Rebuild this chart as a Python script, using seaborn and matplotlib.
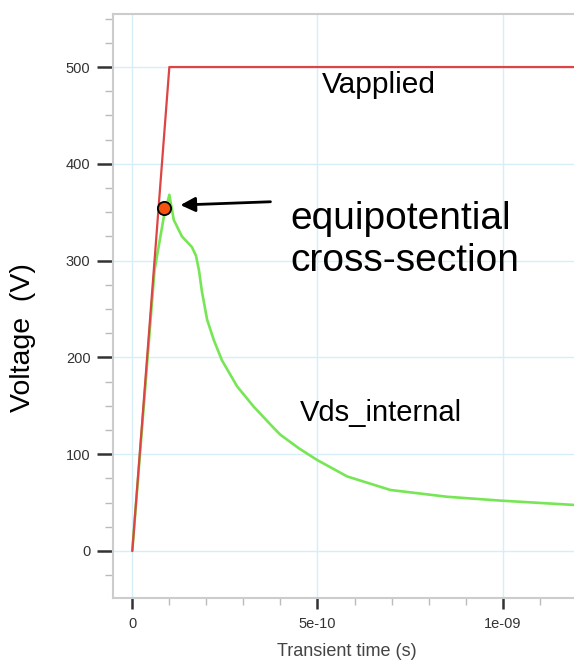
import numpy as np
import pandas as pd
import matplotlib
matplotlib.use("Agg")
import matplotlib.pyplot as plt
from matplotlib.ticker import MultipleLocator, FixedLocator, FixedFormatter
import seaborn as sns

# ---- data ----
t_applied = [0.0, 0.1e-9, 1.195e-9]
v_applied = [0.0, 500.0, 500.0]

t_internal = [0.0, 0.03e-9, 0.06e-9, 0.085e-9, 0.1e-9, 0.112e-9, 0.134e-9, 0.161e-9,
              0.172e-9, 0.18e-9, 0.188e-9, 0.202e-9, 0.220e-9, 0.242e-9, 0.283e-9, 0.328e-9,
              0.382e-9, 0.4e-9, 0.45e-9, 0.499e-9, 0.58e-9, 0.697e-9, 0.85e-9, 0.995e-9, 1.195e-9]
v_internal = [0.0, 145, 290, 345, 368, 342, 325, 314,
              305, 290, 268, 239, 218, 197, 170, 149,
              127, 120, 106, 94, 77, 63, 56, 52, 47.5]

marker_t = [0.0865e-9]
marker_v = [354]

x_ticks = [0.0, 5e-10, 1e-9]
x_tick_labels = ["0", "5e-10", "1e-09"]
y_ticks = [0, 100, 200, 300, 400, 500]
y_tick_labels = ["0", "100", "200", "300", "400", "500"]

sns.set_style("white")
plt.rcParams['font.family'] = ['Liberation Sans', 'DejaVu Sans']

fig = plt.figure(figsize=(5.74, 6.64), dpi=100)
ax = fig.add_axes([113.3/574, (664-598)/664, (574-113.3)/574, (598-14)/664])

df_a = pd.DataFrame({"t": t_applied, "v": v_applied})
df_i = pd.DataFrame({"t": t_internal, "v": v_internal})
sns.lineplot(data=df_a, x="t", y="v", ax=ax, color="#dd4444", lw=1.6, sort=False, zorder=3)
sns.lineplot(data=df_i, x="t", y="v", ax=ax, color="#77e655", lw=1.9, sort=False, zorder=2)
ax.plot(marker_t, marker_v, 'o', ms=9.5, mfc="#f5520f", mec="black", mew=1.3, zorder=5)

ax.set_xlim(-0.0513e-9, 1.1925e-9)
ax.set_ylim(-48.6, 554.8)

ax.xaxis.set_major_locator(FixedLocator(x_ticks))
ax.xaxis.set_major_formatter(FixedFormatter(x_tick_labels))
ax.xaxis.set_minor_locator(MultipleLocator(1e-10))
ax.yaxis.set_major_locator(FixedLocator(y_ticks))
ax.yaxis.set_major_formatter(FixedFormatter(y_tick_labels))
ax.yaxis.set_minor_locator(MultipleLocator(25))

ax.grid(True, which="major", color="#d5eef7", lw=1.0)
ax.set_axisbelow(True)

for s in ["left", "bottom", "top"]:
    ax.spines[s].set_color("#cccccc")
    ax.spines[s].set_linewidth(1.5)
ax.spines["right"].set_visible(False)

ax.tick_params(axis="y", which="major", direction="out", length=11.5, width=1.8,
               color="#333333", labelsize=10.5, labelcolor="#333333", pad=5, left=True)
ax.tick_params(axis="y", which="minor", direction="out", length=6, width=1,
               color="#bbbbbb", left=True)
ax.tick_params(axis="x", which="major", direction="out", length=8, width=1.8,
               color="#333333", labelsize=10.5, labelcolor="#333333", pad=6, bottom=True)
ax.tick_params(axis="x", which="minor", direction="out", length=5, width=1,
               color="#bbbbbb", bottom=True)

ax.set_xlabel("")
ax.set_ylabel("")
fig.text(346.7/574, 1 - 651.7/664, "Transient time (s)", ha="center", va="center",
         fontsize=13, color="#444444")
fig.text(23/574, 1 - 338/664, "Voltage  (V)", ha="center", va="center",
         rotation=90, fontsize=20.5, color="black")

ax.text(0.513e-9, 481, "Vapplied", fontsize=21.5, ha="left", va="center", color="black")
ax.text(0.453e-9, 143, "Vds_internal", fontsize=21, ha="left", va="center", color="black")
ax.text(0.426e-9, 321, "equipotential\ncross-section", fontsize=28, ha="left",
        va="center", color="black", linespacing=1.2)

ax.annotate("", xy=(0.13e-9, 357.4), xytext=(0.373e-9, 360.8),
            arrowprops=dict(arrowstyle="-|>", color="black", lw=2, mutation_scale=22,
                            shrinkA=0, shrinkB=0), zorder=6)

fig.savefig("out.png", dpi=100)
